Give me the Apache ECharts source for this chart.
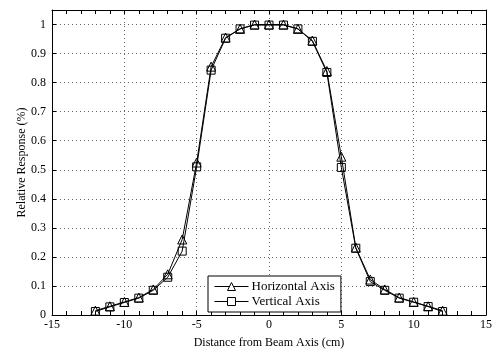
<!DOCTYPE html>
<html><head><meta charset="utf-8">
<script src="https://cdn.jsdelivr.net/npm/echarts@6/dist/echarts.min.js"></script>
<style>html,body{margin:0;padding:0;background:#fff}#c{width:495px;height:354px}</style>
</head><body><div id="c"></div>
<script>
const xValues = [-12,-11,-10,-9,-8,-7,-6,-5,-4,-3,-2,-1,0,1,2,3,4,5,6,7,8,9,10,11,12];
const horizontal = [0.015,0.03,0.045,0.06,0.088,0.14,0.26,0.525,0.855,0.955,0.985,1.0,1.0,1.0,0.985,0.945,0.84,0.545,0.232,0.122,0.088,0.06,0.045,0.03,0.015];
const vertical   = [0.012,0.028,0.043,0.058,0.085,0.13,0.22,0.51,0.843,0.953,0.985,0.998,0.998,0.998,0.985,0.942,0.835,0.508,0.23,0.115,0.085,0.058,0.044,0.029,0.012];
const seriesNames = ['Horizontal Axis','Vertical Axis'];
const xTitle = 'Distance from Beam Axis (cm)';
const yTitle = 'Relative Response (%)';

const font = 'Liberation Serif';
const chart = echarts.init(document.getElementById('c'), null, {renderer:'canvas'});
const pair = a => xValues.map((x,i)=>[x,a[i]]);
const tickStyle = {show:true, inside:true, length:4, lineStyle:{color:'#000',width:1}};
const minorStyle = {show:true, splitNumber:5, length:4, lineStyle:{color:'#000',width:1}};
chart.setOption({
  animation:false,
  backgroundColor:'#fff',
  grid:{left:52,right:5,top:10,bottom:36,containLabel:false},
  legend:{
    orient:'vertical', left:208, top:276,
    padding:[4,6,4,6],
    itemWidth:34, itemHeight:10, itemGap:2,
    borderColor:'#000', borderWidth:1, backgroundColor:'#fff',
    lineStyle:{width:1,color:'#000'},
    itemStyle:{color:'#fff',borderColor:'#000',borderWidth:1},
    textStyle:{fontFamily:font,fontSize:13,color:'#000',padding:[0,0,0,-2]},
    data:seriesNames
  },
  xAxis:[{
    type:'value', min:-15, max:15, interval:5,
    name:xTitle, nameLocation:'middle', nameGap:22,
    nameTextStyle:{fontFamily:font,fontSize:12,color:'#000'},
    axisLine:{show:true,onZero:false,lineStyle:{color:'#000',width:1}},
    axisTick:tickStyle,
    minorTick:minorStyle,
    axisLabel:{fontFamily:font,fontSize:12,color:'#000',margin:4},
    splitLine:{show:true,lineStyle:{color:'#666',type:[1,3],width:1}}
  },{
    type:'value', min:-15, max:15, interval:5, position:'top',
    axisLine:{show:true,onZero:false,lineStyle:{color:'#000',width:1}},
    axisTick:tickStyle, minorTick:minorStyle,
    axisLabel:{show:false}, splitLine:{show:false}
  }],
  yAxis:[{
    type:'value', min:0, max:1.05, interval:0.1,
    name:yTitle, nameLocation:'middle', nameGap:24, nameRotate:90, nameMoveOverlap:false,
    nameTextStyle:{fontFamily:font,fontSize:12,color:'#000'},
    axisLine:{show:true,onZero:false,lineStyle:{color:'#000',width:1}},
    axisTick:tickStyle,
    axisLabel:{fontFamily:font,fontSize:12,color:'#000',margin:6,showMaxLabel:false,
      formatter:v=>{const r=Math.round(v*10)/10; return Math.abs(v-r)<1e-6? String(r):'';}},
    splitLine:{show:true,lineStyle:{color:'#666',type:[1,3],width:1}}
  },{
    type:'value', min:0, max:1.05, interval:0.1, position:'right',
    axisLine:{show:true,onZero:false,lineStyle:{color:'#000',width:1}},
    axisTick:tickStyle, axisLabel:{show:false}, splitLine:{show:false}
  }],
  series:[{
    name:seriesNames[0], type:'line', data:pair(horizontal),
    symbol:'triangle', symbolSize:9, showAllSymbol:true,
    lineStyle:{color:'#000',width:1}, itemStyle:{color:'rgba(255,255,255,0)',borderColor:'#000',borderWidth:1},
    color:'#000'
  },{
    name:seriesNames[1], type:'line', data:pair(vertical),
    symbol:'rect', symbolSize:8, showAllSymbol:true,
    lineStyle:{color:'#000',width:1}, itemStyle:{color:'rgba(255,255,255,0)',borderColor:'#000',borderWidth:1},
    color:'#000'
  }]
});
</script></body></html>
